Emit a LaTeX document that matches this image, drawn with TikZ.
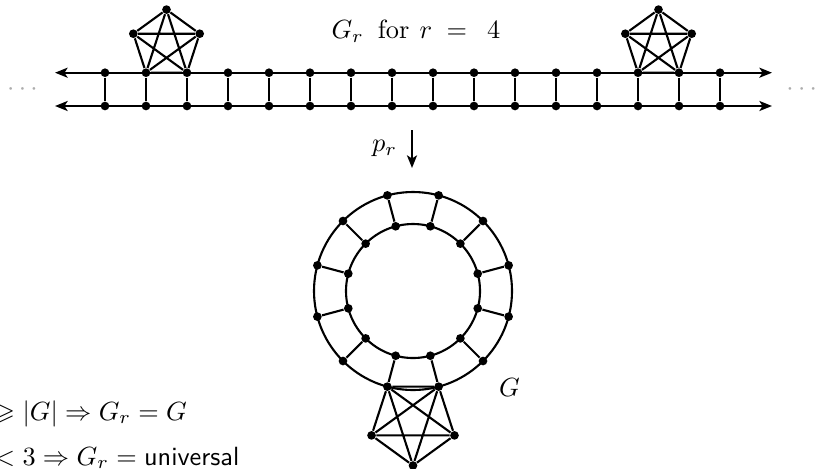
\documentclass[tikz,border=0pt]{standalone}
\usepackage{amssymb}
\usetikzlibrary{arrows.meta,calc}
\begin{document}
\begin{tikzpicture}[x=0.38pt,y=-0.38pt,
  edge/.style={line width=0.8pt},
  vtx/.style={circle,fill,inner sep=0pt,minimum size=3.3pt},
  tip/.tip={Stealth[length=4.8pt,width=3.8pt,inset=1.2pt]},
  lbl/.style={inner sep=0pt},
  dotsstyle/.style={inner sep=0pt,text=black!32,anchor=base}
  ]
\useasboundingbox (0,0) rectangle (818,468);
\clip (0,0) rectangle (818,468);

% ---------- ladder ----------
\coordinate (tl) at (55,72.7);
\coordinate (tr) at (772,72.7);
\coordinate (bl) at (55,106);
\coordinate (br) at (772,106);
\draw[edge,tip-tip] (tl) -- (tr);
\draw[edge,tip-tip] (bl) -- (br);
\foreach \i in {0,...,15} {
  \pgfmathsetmacro\xx{105+41*\i}
  \node[vtx] (t\i) at (\xx,72.7) {};
  \node[vtx] (b\i) at (\xx,106) {};
  \draw[edge] (t\i) -- (b\i);
}

% ---------- top K5s ----------
\coordinate (cA) at (166.5,44.49);
\node[vtx] (a1) at ($(cA)+(-90:34.88)$) {};
\node[vtx] (a2) at ($(cA)+(-18:34.88)$) {};
\node[vtx] (a3) at ($(cA)+(198:34.88)$) {};
\draw[edge] (a1) -- (a2) (a1) -- (a3) (a2) -- (a3)
  (a1) -- (t1) (a1) -- (t2) (a2) -- (t1) (a2) -- (t2)
  (a3) -- (t1) (a3) -- (t2) (t1) -- (t2);

\coordinate (cB) at (658.5,44.49);
\node[vtx] (c1) at ($(cB)+(-90:34.88)$) {};
\node[vtx] (c2) at ($(cB)+(-18:34.88)$) {};
\node[vtx] (c3) at ($(cB)+(198:34.88)$) {};
\draw[edge] (c1) -- (c2) (c1) -- (c3) (c2) -- (c3)
  (c1) -- (t13) (c1) -- (t14) (c2) -- (t13) (c2) -- (t14)
  (c3) -- (t13) (c3) -- (t14) (t13) -- (t14);

% ---------- labels ----------
\node[lbl,anchor=base west] (title) at (331,38.5)
  {$G_r$\hspace{2pt} for\hspace{0.5pt} $r \;=\; \hspace{2pt}4$};
\node[dotsstyle] (ldots) at (22.5,95.9) {$\cdots$};
\node[dotsstyle] (rdots) at (801.7,95.9) {$\cdots$};

% ---------- projection arrow ----------
\coordinate (pa) at (412,130);
\coordinate (pb) at (412,168);
\draw[edge,-tip] (pa) -- (pb);
\node[lbl,anchor=base east] (pr) at (397.5,151.5) {$p_r$};

% ---------- ring ----------
\coordinate (ctr) at (413,291);
\draw[edge] (ctr) circle[radius=99];
\draw[edge] (ctr) circle[radius=67];
\foreach \k in {0,...,11} {
  \pgfmathsetmacro\ang{15+30*\k}
  \node[vtx] (o\k) at ($(ctr)+(\ang:99)$) {};
  \node[vtx] (i\k) at ($(ctr)+(\ang:67)$) {};
  \draw[edge] (o\k) -- (i\k);
}

% ---------- bottom K5 (on o2 = 75deg, o3 = 105deg) ----------
\coordinate (cK) at (413,421.9);
\node[vtx] (k1) at ($(cK)+(18:43.6)$) {};
\node[vtx] (k2) at ($(cK)+(90:43.6)$) {};
\node[vtx] (k3) at ($(cK)+(162:43.6)$) {};
\draw[edge] (k1) -- (k2) (k1) -- (k3) (k2) -- (k3)
  (o2) -- (k1) (o2) -- (k2) (o2) -- (k3)
  (o3) -- (k1) (o3) -- (k2) (o3) -- (k3) (o2) -- (o3);

\node[lbl,anchor=base west] (Glbl) at (498.5,396.5) {$G$};

% ---------- bottom-left statements ----------
\node[lbl,anchor=base west] (s1) at (-25.7,420) {$r \geqslant |G| \Rightarrow G_r = G$};
\node[lbl,anchor=base west] (s2) at (-25.7,465) {$r < 3 \Rightarrow G_r = \textsf{universal}$};
\end{tikzpicture}
\end{document}
